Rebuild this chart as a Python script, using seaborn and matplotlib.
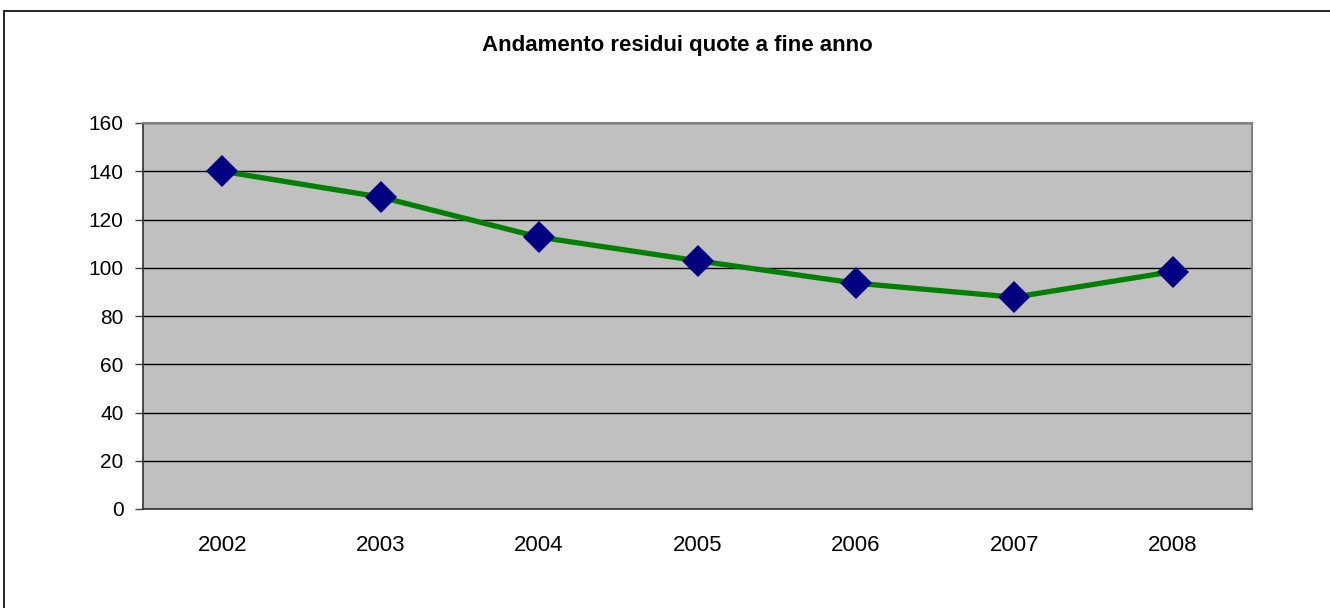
import numpy as np
import pandas as pd
import matplotlib
matplotlib.use("Agg")
import matplotlib.pyplot as plt
import seaborn as sns
from matplotlib.lines import Line2D

# dati
anni = ["2002", "2003", "2004", "2005", "2006", "2007", "2008"]
residui = [140, 129.3, 112.7, 102.9, 93.6, 87.8, 98.4]
y_ticks = [0, 20, 40, 60, 80, 100, 120, 140, 160]
titolo = "Andamento residui quote a fine anno"

df = pd.DataFrame({"anno": anni, "residuo": residui})

sns.set_style("white")
plt.rcParams["font.family"] = ["Liberation Sans", "DejaVu Sans"]
plt.rcParams["text.color"] = "black"
plt.rcParams["xtick.color"] = "black"
plt.rcParams["ytick.color"] = "black"

fig = plt.figure(figsize=(13.3, 6.08), dpi=100)
ax = fig.add_axes([143 / 1330, 1 - 509 / 608, (1252 - 143) / 1330, (509 - 123) / 608])
ax.set_facecolor("#C0C0C0")

sns.lineplot(data=df, x="anno", y="residuo", ax=ax, color="#008000", linewidth=3.8,
             marker="D", markersize=16, markerfacecolor="#000080",
             markeredgecolor="#000080", markeredgewidth=0, sort=False)

ax.set_xlim(-0.5, len(anni) - 0.5)
ax.set_ylim(0, 160)
ax.set_yticks(y_ticks)
ax.set_yticklabels([str(v) for v in y_ticks], fontsize=15)
ax.set_xticks(range(len(anni)))
ax.set_xticklabels(anni, fontsize=16)
ax.set_xticks(np.arange(-0.5, len(anni)), minor=True)
ax.tick_params(axis="x", which="major", length=0, pad=19)
ax.tick_params(axis="x", which="minor", length=6, width=1, color="#404040", direction="out")
ax.tick_params(axis="y", length=6, width=1, color="#404040", direction="out", pad=8, left=True)
ax.set_xlabel("")
ax.set_ylabel("")

ax.yaxis.grid(True, color="black", linewidth=1)
ax.set_axisbelow(True)

for s in ["left", "bottom"]:
    ax.spines[s].set_color("#303030")
    ax.spines[s].set_linewidth(1.2)
for s in ["top", "right"]:
    ax.spines[s].set_color("#808080")
    ax.spines[s].set_linewidth(1.5)

fig.text(677 / 1330, 1 - 46 / 608, titolo, ha="center", va="center",
         fontsize=16, fontweight="bold")

# cornice esterna
fig.add_artist(Line2D([4 / 1330, 4 / 1330], [0, 1 - 11 / 608], color="black",
                      linewidth=1.2, transform=fig.transFigure))
fig.add_artist(Line2D([4 / 1330, 1], [1 - 11 / 608, 1 - 11 / 608], color="black",
                      linewidth=1.2, transform=fig.transFigure))

fig.savefig("out.png", dpi=100)
